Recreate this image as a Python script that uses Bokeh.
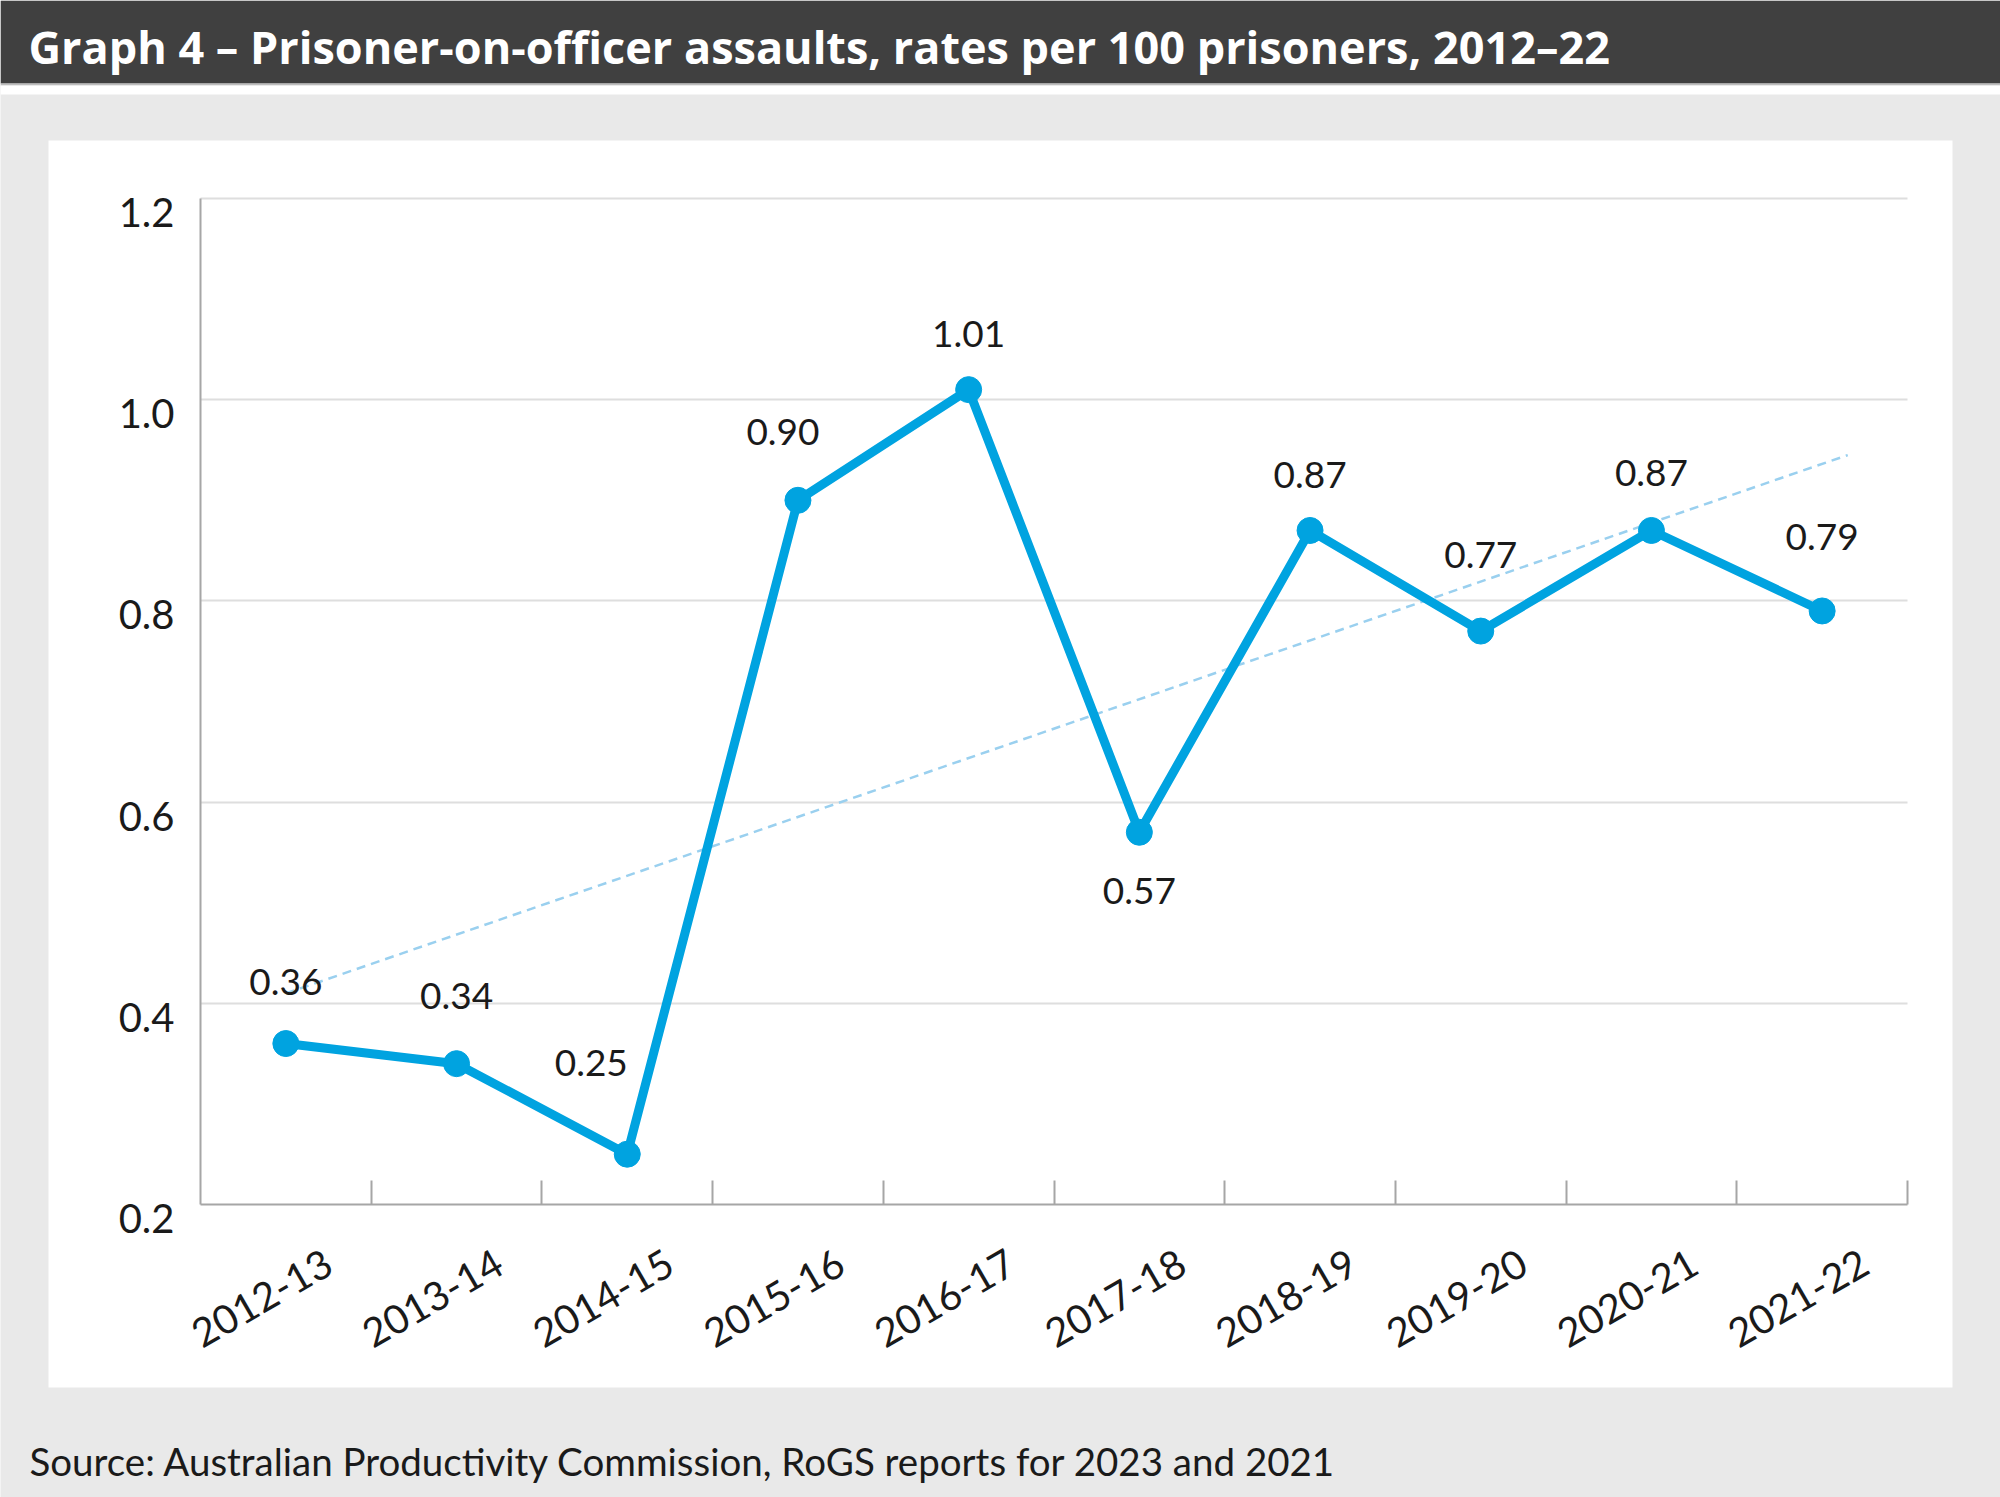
import math
import numpy as np
from bokeh.plotting import figure
from bokeh.models import Range1d, LinearAxis, FixedTicker, Grid, ColumnDataSource
from bokeh.core.properties import value
from bokeh.embed import file_html
from bokeh.resources import INLINE

# ---------------- data ----------------
YEARS = ["2012-13", "2013-14", "2014-15", "2015-16", "2016-17",
         "2017-18", "2018-19", "2019-20", "2020-21", "2021-22"]
RATES = [0.36, 0.34, 0.25, 0.90, 1.01, 0.57, 0.87, 0.77, 0.87, 0.79]
RATE_LABELS = ["0.36", "0.34", "0.25", "0.90", "1.01",
               "0.57", "0.87", "0.77", "0.87", "0.79"]
Y_TICKS = [0.2, 0.4, 0.6, 0.8, 1.0, 1.2]
Y_TICK_LABELS = ["0.2", "0.4", "0.6", "0.8", "1.0", "1.2"]
TITLE = "Graph 4 \u2013 Prisoner-on-officer assaults, rates per 100 prisoners, 2012\u201322"
SOURCE = "Source: Australian Productivity Commission, RoGS reports for 2023 and 2021"

# ---------------- layout / styling (pixels) ----------------
W, H = 2000, 1497
CHART_L, CHART_R, CHART_T, CHART_B = 200, 1907, 198, 1204   # plot area
PANEL = (48, 1952, 140, 1387)                               # white panel l, r, t, b
BAR_H = 83
LABEL_DX = [0, 0, -36, -15, 0, 0, 0, 0, 0, 0]
LABEL_DY = [-62, -68, -91, -68, -56, 59, -55, -76, -57, -74]
TREND_FORWARD = 0.15
XLAB_SHIFT = 0.25      # category units
YLAB_SHIFT_PX = 14

BLUE = "#00a3e0"
TREND = "#9ad0ef"
AXIS = "#a6a6a6"
GRID = "#dedede"
TXT = "#1a1a1a"
BG = "#e9e9e9"
FONT = "Lato"

n = len(YEARS)
idx = list(range(n))

# main data ranges, extended so that the chart area sits at the pixel box above
x0, x1 = -0.5, n - 0.5
ppx = (CHART_R - CHART_L) / (x1 - x0)
y0, y1 = Y_TICKS[0], Y_TICKS[-1]
ppy = (CHART_B - CHART_T) / (y1 - y0)
xr = Range1d(x0 - CHART_L / ppx, x1 + (W - CHART_R) / ppx)
yr = Range1d(y0 - (H - CHART_B) / ppy, y1 + CHART_T / ppy)

p = figure(width=W, height=H, x_range=xr, y_range=yr,
           output_backend="svg", toolbar_location=None,
           x_axis_location=None, y_axis_location=None,
           min_border=0, min_border_left=0, min_border_right=0,
           min_border_top=0, min_border_bottom=0)
p.border_fill_color = BG
p.background_fill_color = BG
p.outline_line_color = None
p.xgrid.visible = False
p.ygrid.visible = False

# pixel-space ranges for the decorations (y downwards)
p.extra_x_ranges["px"] = Range1d(0, W)
p.extra_y_ranges["px"] = Range1d(H, 0)
s = YLAB_SHIFT_PX / ppy
p.extra_y_ranges["ylab"] = Range1d(yr.start + s, yr.end + s)
p.extra_x_ranges["xlab"] = Range1d(xr.start - XLAB_SHIFT, xr.end - XLAB_SHIFT)

deco = dict(x_range_name="px", y_range_name="px", level="image", line_color=None)
p.quad(left=[0], right=[W], top=[0], bottom=[BAR_H], fill_color="#404040", **deco)
p.quad(left=[0], right=[W], top=[BAR_H], bottom=[BAR_H + 2], fill_color="#bdbdbd", **deco)
p.quad(left=[0], right=[W], top=[BAR_H + 2], bottom=[94], fill_color="white", **deco)
p.quad(left=[PANEL[0]], right=[PANEL[1]], top=[PANEL[2]], bottom=[PANEL[3]],
       fill_color="white", **deco)

p.text(x=[28], y=[46], text=[TITLE], x_range_name="px", y_range_name="px",
       text_color="white", text_font=value("Open Sans"), text_font_style="bold",
       text_font_size="45px", text_baseline="middle", text_align="left")
p.text(x=[29], y=[1460], text=[SOURCE], x_range_name="px", y_range_name="px",
       text_color=TXT, text_font=value(FONT),
       text_font_size="38.5px", text_baseline="middle", text_align="left")

# grid (horizontal lines limited to the plot area)
try:
    grid = Grid(dimension=1, ticker=FixedTicker(ticks=Y_TICKS[1:]),
                cross_bounds=(x0, x1),
                grid_line_color=GRID, grid_line_width=2)
    p.add_layout(grid, "center")
except Exception:
    p.segment(x0=[x0] * (len(Y_TICKS) - 1), x1=[x1] * (len(Y_TICKS) - 1),
              y0=Y_TICKS[1:], y1=Y_TICKS[1:], line_color=GRID, line_width=2,
              level="underlay")

# y axis line
yline = LinearAxis(ticker=FixedTicker(ticks=[]), fixed_location=x0, bounds=(y0, y1),
                   axis_line_color=AXIS, axis_line_width=2,
                   major_tick_in=0, major_tick_out=0, minor_tick_in=0, minor_tick_out=0,
                   major_label_text_font_size="0px")
p.add_layout(yline, "left")

# y tick labels (slightly below their gridlines, as in the original)
ylab = LinearAxis(y_range_name="ylab", ticker=FixedTicker(ticks=Y_TICKS),
                  fixed_location=x0,
                  major_label_overrides={t: l for t, l in zip(Y_TICKS, Y_TICK_LABELS)},
                  axis_line_color=None,
                  major_tick_in=0, major_tick_out=0, minor_tick_in=0, minor_tick_out=0,
                  major_label_standoff=26,
                  major_label_text_font=FONT, major_label_text_font_size="40px",
                  major_label_text_color=TXT)
p.add_layout(ylab, "left")

# x axis: labels shifted right of category centres, tick marks between categories
xaxis = LinearAxis(x_range_name="xlab", fixed_location=y0,
                   bounds=(x0 - XLAB_SHIFT, x1 - XLAB_SHIFT),
                   ticker=FixedTicker(ticks=idx,
                                      minor_ticks=[k + 0.5 - XLAB_SHIFT for k in idx]),
                   major_label_overrides={i: yv for i, yv in zip(idx, YEARS)},
                   axis_line_color=AXIS, axis_line_width=2,
                   major_tick_in=0, major_tick_out=0,
                   minor_tick_in=24, minor_tick_out=0,
                   minor_tick_line_color=AXIS, minor_tick_line_width=2,
                   major_label_orientation=math.radians(30),
                   major_label_standoff=55,
                   major_label_text_font=FONT, major_label_text_font_size="40px",
                   major_label_text_color=TXT)
p.add_layout(xaxis, "below")

# trend line (linear fit of the series)
coef = np.polyfit(idx, RATES, 1)
tx = [0, n - 1 + TREND_FORWARD]
ty = list(np.polyval(coef, tx))
p.line(tx, ty, line_color=TREND, line_width=2.5, line_dash="9 6")

# data series
src = ColumnDataSource(dict(x=idx, y=RATES, lab=RATE_LABELS, dx=LABEL_DX, dy=LABEL_DY))
p.line("x", "y", source=src, line_color=BLUE, line_width=9, line_join="round")
p.scatter("x", "y", source=src, size=26, fill_color=BLUE, line_color=BLUE)
p.text("x", "y", text="lab", x_offset="dx", y_offset="dy", source=src,
       text_align="center", text_baseline="middle",
       text_font=value(FONT), text_font_size="37px", text_color=TXT)

open("out.html", "w").write(file_html(p, INLINE))
